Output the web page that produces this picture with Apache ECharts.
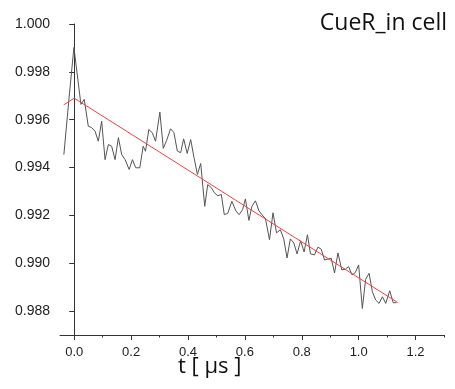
<!DOCTYPE html>
<html><head><meta charset="utf-8">
<script src="https://cdn.jsdelivr.net/npm/echarts@6/dist/echarts.min.js"></script>
<style>html,body{margin:0;padding:0;background:#fff}#c{width:455px;height:389px}</style>
</head><body><div id="c"></div>
<script>
var times = [-0.0364,-0.0176,-0.0011,0.0236,0.0353,0.0494,0.0611,0.0731,0.0847,0.0964,0.1084,0.1200,0.1316,0.1436,0.1553,0.1669,0.1789,0.1931,0.2047,0.2164,0.2305,0.2425,0.2506,0.2622,0.2742,0.2859,0.3011,0.3131,0.3247,0.3388,0.3505,0.3625,0.3741,0.3847,0.3971,0.4094,0.4211,0.4331,0.4447,0.4588,0.4694,0.4818,0.4924,0.5047,0.5171,0.5276,0.5400,0.5541,0.5682,0.5799,0.5919,0.6018,0.6141,0.6247,0.6371,0.6494,0.6600,0.6724,0.6865,0.6988,0.7112,0.7246,0.7366,0.7482,0.7599,0.7719,0.7835,0.7959,0.8082,0.8199,0.8305,0.8446,0.8566,0.8682,0.8799,0.8919,0.9035,0.9152,0.9272,0.9406,0.9529,0.9646,0.9766,0.9882,0.9999,1.0129,1.0246,1.0366,1.0482,1.0599,1.0719,1.0835,1.0952,1.1093,1.1213,1.1329];
var signal = [0.99454,0.99698,0.99902,0.99664,0.99685,0.99573,0.99567,0.99552,0.99510,0.99594,0.99433,0.99496,0.99489,0.99433,0.99525,0.99454,0.99433,0.99392,0.99433,0.99399,0.99399,0.99489,0.99468,0.99559,0.99546,0.99510,0.99632,0.99480,0.99513,0.99562,0.99546,0.99469,0.99462,0.99520,0.99459,0.99517,0.99442,0.99371,0.99417,0.99238,0.99329,0.99316,0.99295,0.99282,0.99287,0.99203,0.99209,0.99259,0.99219,0.99203,0.99224,0.99269,0.99179,0.99238,0.99261,0.99219,0.99203,0.99186,0.99098,0.99211,0.99127,0.99140,0.99102,0.99022,0.99102,0.99085,0.99039,0.99094,0.99047,0.99119,0.99039,0.99035,0.99067,0.99059,0.99014,0.99017,0.99021,0.98959,0.99043,0.98972,0.98975,0.98986,0.98951,0.98961,0.98993,0.98811,0.98933,0.98958,0.98881,0.98846,0.98832,0.98860,0.98832,0.98885,0.98835,0.98835];
var fitTimes = [-0.037, 0.0, 1.137];
var fitValues = [0.99662, 0.99690, 0.98836];
var xTickLabels = [0, 0.2, 0.4, 0.6, 0.8, 1.0, 1.2];
var xMinorTicks = [0.1, 0.3, 0.5, 0.7, 0.9, 1.1, 1.3];
var yTickLabels = [0.988, 0.990, 0.992, 0.994, 0.996, 0.998, 1.000];

var sigData = times.map(function(t,i){return [t, signal[i]];});
var fitData = fitTimes.map(function(t,i){return [t, fitValues[i]];});

var chart = echarts.init(document.getElementById('c'), null, {renderer:'canvas'});
var axisLine = {lineStyle:{color:'#333', width:1}};
chart.setOption({
  animation:false,
  backgroundColor:'#fff',
  grid:{left:60, right:11, top:24, bottom:54, containLabel:false},
  title:{text:'CueR_in cell', right:3, top:7, textStyle:{fontFamily:'Open Sans', fontWeight:'normal', fontSize:23, color:'#111'}},
  graphic:[{type:'text', left:178, top:356, style:{text:'t [ µs ]', font:'22px "Open Sans"', fill:'#111'}}],
  xAxis:[{
    type:'value', min:-0.05, max:1.3,
    axisLine:axisLine, splitLine:{show:false},
    axisTick:{show:true, length:5, lineStyle:{color:'#333'}, customValues:xTickLabels},
    axisLabel:{customValues:xTickLabels, formatter:function(v){return v.toFixed(1);}, color:'#222', fontFamily:'Liberation Sans', fontSize:13, margin:11}
  },{
    type:'value', min:-0.05, max:1.3, position:'bottom',
    axisLine:{show:false}, splitLine:{show:false},
    axisTick:{show:true, length:2.5, lineStyle:{color:'#333'}, customValues:xMinorTicks},
    axisLabel:{show:false}
  }],
  yAxis:{
    type:'value', min:0.987, max:1.000,
    axisLine:axisLine, splitLine:{show:false},
    axisTick:{show:true, length:5, lineStyle:{color:'#333'}, customValues:yTickLabels},
    axisLabel:{customValues:yTickLabels, formatter:function(v){return v.toFixed(3);}, color:'#222', fontFamily:'Liberation Sans', fontSize:14, margin:10}
  },
  series:[
    {type:'line', data:sigData, showSymbol:false, lineStyle:{color:'#555', width:1}, z:2},
    {type:'line', data:fitData, showSymbol:false, lineStyle:{color:'#ee4444', width:1}, z:3}
  ]
});
</script></body></html>
